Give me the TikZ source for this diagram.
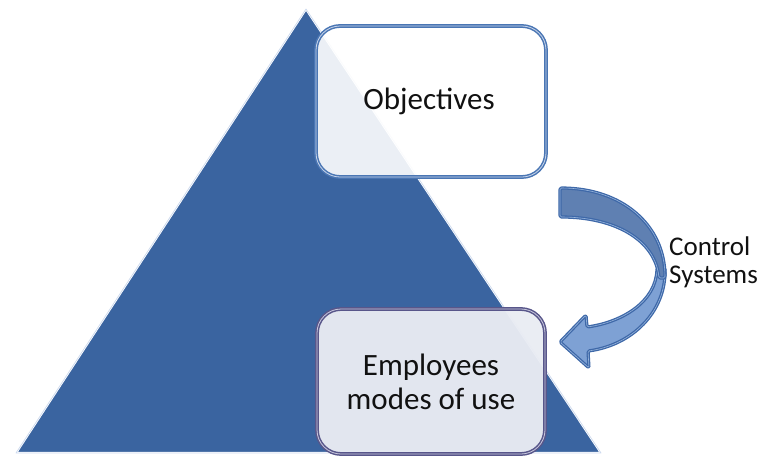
\documentclass[tikz,border=0pt]{standalone}
\usepackage{fontspec}
\setmainfont{Carlito}
\definecolor{trifill}{RGB}{58,100,160}
\definecolor{triedge}{RGB}{205,218,238}
\definecolor{objedge}{RGB}{74,118,180}
\definecolor{objinner}{RGB}{200,213,234}
\definecolor{empfill}{RGB}{233,236,243}
\definecolor{empedge}{RGB}{88,86,138}
\definecolor{empinner}{RGB}{200,200,222}
\definecolor{arrowedge}{RGB}{62,104,168}
\definecolor{arrowdark}{RGB}{95,128,178}
\definecolor{arrowlight}{RGB}{126,161,212}
\definecolor{arrowinner}{RGB}{150,180,220}
\definecolor{txt}{RGB}{17,17,17}
\tikzset{
  roundbox/.style={rounded corners=24pt, align=center, text=txt,
    font=\fontsize{31}{34}\selectfont, line width=1.5pt, double distance=0.8pt},
  arrowpart/.style={draw=arrowedge, line width=1.3pt, double=arrowinner,
    double distance=0.6pt, rounded corners=1.5pt, line join=round},
}
\begin{document}
\begin{tikzpicture}[x=1pt,y=-1pt]
\useasboundingbox (0,0) rectangle (764,459);
% pyramid
\coordinate (apex) at (306,9);
\coordinate (bl) at (16,453);
\coordinate (br) at (601,453);
\fill[trifill] (apex) -- (br) -- (bl) -- cycle;
\draw[white, line width=2.2pt, line join=round] (apex) -- (br) -- (bl) -- cycle;
\draw[triedge, line width=0.7pt, line join=round] (apex) -- (br) -- (bl) -- cycle;
% objectives box
\node[roundbox, draw=objedge, double=objinner, fill=white, fill opacity=0.9, text opacity=1,
  minimum width=230pt, minimum height=151pt] (obj) at (431,101.5) {\hspace*{-4pt}Objectives};
% employees box
\node[roundbox, draw=empedge, double=empinner, fill=empfill, fill opacity=0.96, text opacity=1,
  minimum width=228pt, minimum height=145pt] (emp) at (431,381.5) {Employees\\modes of use};
% curved arrow (lower, lighter part)
\path[arrowpart, fill=arrowlight] (665,268) .. controls (666,312) and (632,345) .. (588,351)
  -- (589,368) -- (560,342) -- (586,315) -- (587,327)
  .. controls (622,322) and (656,302) .. (657,268) -- cycle;
% curved arrow (upper, darker part)
\path[arrowpart, fill=arrowdark] (560,188) .. controls (622,188) and (665,225) .. (665,278)
  -- (659,278) .. controls (655,240) and (615,217) .. (560,217) -- cycle;
% label
\node[anchor=west, align=left, text=txt, font=\fontsize{27}{28}\selectfont, inner sep=0pt]
  (ctrl) at (669,262) {Control\\Systems};
\end{tikzpicture}
\end{document}
